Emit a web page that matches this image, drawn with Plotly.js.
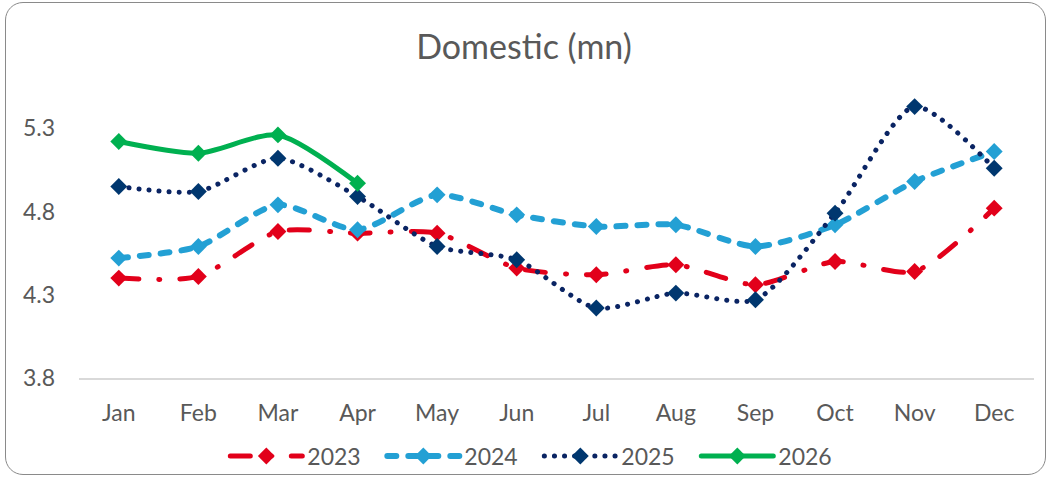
<!DOCTYPE html>
<html>
<head>
<meta charset="utf-8">
<script src="https://cdn.plot.ly/plotly-3.0.1.min.js"></script>
<style>
  html, body { margin: 0; padding: 0; background: #ffffff; }
  #wrap { position: relative; width: 1048px; height: 478px; }
  #chart { width: 1048px; height: 478px; }
  #frame { position: absolute; left: 5px; top: 2px; width: 1039px; height: 471px;
           border: 1.5px solid #8a8a8a; border-radius: 18px; pointer-events: none; }
  .js-line { stroke-linecap: round !important; stroke-linejoin: round !important; }
</style>
</head>
<body>
<div id="wrap">
  <div id="chart"></div>
  <div id="frame"></div>
</div>
<script>
const months = ["Jan","Feb","Mar","Apr","May","Jun","Jul","Aug","Sep","Oct","Nov","Dec"];
const series2023 = [4.40, 4.41, 4.68, 4.67, 4.67, 4.46, 4.42, 4.48, 4.36, 4.50, 4.44, 4.82];
const series2024 = [4.52, 4.59, 4.84, 4.69, 4.90, 4.78, 4.71, 4.72, 4.59, 4.72, 4.98, 5.16];
const series2025 = [4.95, 4.92, 5.12, 4.89, 4.59, 4.51, 4.22, 4.31, 4.27, 4.79, 5.43, 5.06];
const series2026 = [5.22, 5.15, 5.26, 4.97];
const yTicks = [3.8, 4.3, 4.8, 5.3];

const FONT = "Lato, 'Open Sans', sans-serif";
const GREY = "#595959";

function mk(name, y, lineColor, markerColor, dash, width) {
  return {
    type: "scatter", mode: "lines+markers", name: name,
    x: months.slice(0, y.length), y: y,
    line: { color: lineColor, width: width, dash: dash, shape: "spline", smoothing: 0.7 },
    marker: { symbol: "diamond", size: 13, color: markerColor, line: { width: 0 } }
  };
}

const data = [
  mk("2023", series2023, "#E2001A", "#E2001A", "20px,20px,1px,20px", 5),
  mk("2024", series2024, "#23A0D4", "#23A0D4", "9px,12px", 6),
  mk("2025", series2025, "#0A2463", "#00376F", "0.1px,10px", 5),
  mk("2026", series2026, "#00B050", "#00B050", "solid", 5)
];

const layout = {
  width: 1048, height: 478,
  margin: { l: 79, r: 14, t: 45, b: 100, autoexpand: false },
  paper_bgcolor: "#ffffff", plot_bgcolor: "#ffffff",
  font: { family: FONT, color: GREY, size: 23 },
  title: { text: "Domestic (mn)", font: { family: FONT, size: 34, color: GREY },
           x: 0.5, xanchor: "center", y: 1 - 47/478, yanchor: "middle", yref: "container" },
  xaxis: {
    type: "category", categoryorder: "array", categoryarray: months,
    range: [-0.5, 11.5], showgrid: false, zeroline: false,
    showline: true, linecolor: "#d9d9d9", linewidth: 2,
    ticks: "", tickfont: { family: FONT, size: 23, color: GREY },
    ticklabelstandoff: 13, fixedrange: true
  },
  yaxis: {
    range: [3.8, 5.8], tickvals: yTicks, ticktext: yTicks.map(v => v.toFixed(1)),
    showgrid: false, zeroline: false, showline: false, ticks: "",
    tickfont: { family: FONT, size: 23, color: GREY },
    ticklabelstandoff: 23, fixedrange: true
  },
  showlegend: true,
  legend: {
    orientation: "h", x: 0.482, xanchor: "center", yref: "container", y: 1 - 456/478, yanchor: "middle",
    font: { family: FONT, size: 23, color: GREY }, itemwidth: 72, entrywidth: 70,
    bgcolor: "rgba(0,0,0,0)", traceorder: "normal"
  }
};

Plotly.newPlot("chart", data, layout, { displayModeBar: false, staticPlot: true });
</script>
</body>
</html>
